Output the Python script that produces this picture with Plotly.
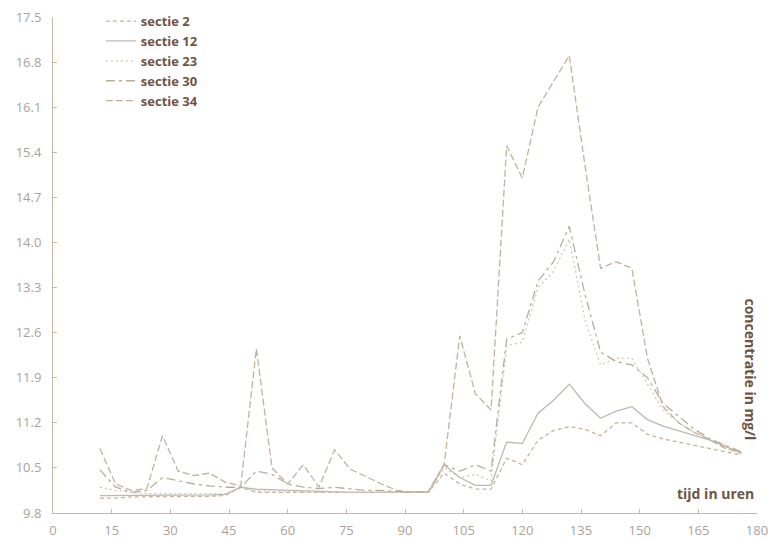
import plotly.graph_objects as go

hours = list(range(12, 180, 4))  # 12 .. 176

sectie_2 = [10.03, 10.03, 10.05, 10.05, 10.05, 10.05, 10.06, 10.06, 10.07, 10.20,
            10.12, 10.12, 10.12, 10.12, 10.12, 10.12, 10.12, 10.12, 10.12, 10.12,
            10.12, 10.12, 10.42, 10.25, 10.17, 10.17, 10.65, 10.55, 10.93, 11.08,
            11.14, 11.10, 11.00, 11.20, 11.20, 11.02, 10.95, 10.90, 10.85, 10.80,
            10.75, 10.70]
sectie_12 = [10.07, 10.07, 10.07, 10.07, 10.07, 10.07, 10.07, 10.08, 10.09, 10.20,
             10.17, 10.16, 10.16, 10.15, 10.14, 10.13, 10.12, 10.12, 10.12, 10.12,
             10.12, 10.13, 10.55, 10.35, 10.23, 10.23, 10.90, 10.88, 11.35, 11.55,
             11.80, 11.50, 11.27, 11.38, 11.45, 11.25, 11.15, 11.08, 11.00, 10.93,
             10.83, 10.73]
sectie_23 = [10.20, 10.15, 10.12, 10.10, 10.10, 10.10, 10.10, 10.10, 10.10, 10.18,
             10.15, 10.14, 10.13, 10.13, 10.12, 10.12, 10.12, 10.12, 10.12, 10.12,
             10.12, 10.12, 10.50, 10.35, 10.40, 10.30, 12.40, 12.45, 13.30, 13.55,
             14.05, 12.80, 12.10, 12.20, 12.20, 11.80, 11.40, 11.20, 11.05, 10.95,
             10.85, 10.72]
sectie_30 = [10.47, 10.20, 10.12, 10.15, 10.35, 10.30, 10.25, 10.22, 10.20, 10.20,
             10.45, 10.40, 10.25, 10.20, 10.18, 10.20, 10.18, 10.15, 10.15, 10.13,
             10.12, 10.13, 10.55, 10.45, 10.55, 10.45, 12.50, 12.60, 13.40, 13.70,
             14.25, 13.20, 12.30, 12.15, 12.10, 11.90, 11.50, 11.30, 11.10, 10.95,
             10.85, 10.75]
sectie_34 = [10.80, 10.25, 10.15, 10.18, 11.00, 10.45, 10.38, 10.42, 10.28, 10.22,
             12.35, 10.50, 10.25, 10.55, 10.20, 10.78, 10.48, 10.36, 10.25, 10.15,
             10.12, 10.13, 10.55, 12.55, 11.65, 11.40, 15.50, 15.00, 16.10, 16.50,
             16.90, 15.20, 13.60, 13.70, 13.60, 12.20, 11.45, 11.20, 11.05, 10.93,
             10.80, 10.73]

series = [
    ("sectie 2", sectie_2, "#c4b49c", "4px,3px"),
    ("sectie 12", sectie_12, "#bfb8b0", "solid"),
    ("sectie 23", sectie_23, "#d2c8b8", "2px,3px"),
    ("sectie 30", sectie_30, "#b9ad9a", "9px,4px,3px,4px"),
    ("sectie 34", sectie_34, "#c2b29c", "7px,3px"),
]

y_ticks = [9.8, 10.5, 11.2, 11.9, 12.6, 13.3, 14.0, 14.7, 15.4, 16.1, 16.8, 17.5]
x_ticks = [0, 15, 30, 45, 60, 75, 90, 105, 120, 135, 150, 165, 180]

fig = go.Figure()
for name, vals, color, dash in series:
    fig.add_trace(go.Scatter(x=hours, y=vals, mode="lines", name=name,
                             line=dict(color=color, width=1.3, dash=dash)))

axis_color = "#c9b8a2"
label_color = "#6e5444"
tick_font = dict(family="Open Sans, sans-serif", size=13, color="#aaa29a")
title_font = dict(family="Open Sans, sans-serif", size=14, color=label_color, weight=700)
fig.update_layout(
    width=769, height=540,
    margin=dict(l=53, r=12, t=17, b=27, autoexpand=False),
    paper_bgcolor="white", plot_bgcolor="white",
    showlegend=True,
    legend=dict(x=0.068, y=1.022, xanchor="left", yanchor="top",
                bgcolor="rgba(0,0,0,0)",
                font=dict(family="Open Sans, sans-serif", size=13, color=label_color, weight=700),
                tracegroupgap=0, itemwidth=30),
    xaxis=dict(range=[0, 180], tickvals=x_ticks, ticktext=[str(v) for v in x_ticks],
               showgrid=False, zeroline=False, showline=True, linecolor=axis_color,
               linewidth=1, ticks="inside", ticklen=4, tickcolor=axis_color,
               tickfont=tick_font, ticklabelstandoff=5, automargin=False),
    yaxis=dict(range=[9.8, 17.5], tickvals=y_ticks, ticktext=[f"{v:.1f}" for v in y_ticks],
               showgrid=False, zeroline=False, showline=True, linecolor=axis_color,
               linewidth=1, ticks="inside", ticklen=4, tickcolor=axis_color,
               tickfont=tick_font, ticklabelstandoff=8, automargin=False),
    annotations=[
        dict(text="tijd in uren", xref="paper", yref="paper", x=0.998, y=0.04,
             xanchor="right", yanchor="middle", showarrow=False, font=title_font),
        dict(text="concentratie in mg/l", xref="paper", yref="paper", x=0.991, y=0.29,
             xanchor="center", yanchor="middle", textangle=90, showarrow=False,
             font=title_font),
    ],
)

fig.write_html("out.html")
